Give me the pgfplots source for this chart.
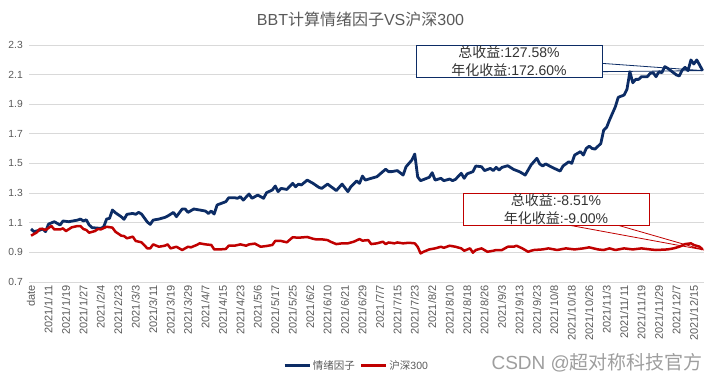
\documentclass[border=0pt]{standalone}
\usepackage{pgfplots}
\pgfplotsset{compat=1.18}
\usepackage{fontspec}
\setmainfont{Liberation Sans}
\newfontfamily\cjk{Noto Sans CJK SC}
\definecolor{navy}{HTML}{0C2C65}
\definecolor{dred}{HTML}{C00000}
\definecolor{gridc}{HTML}{D9D9D9}
\definecolor{txt}{HTML}{595959}
\begin{document}
\begin{tikzpicture}[x=1pt,y=1pt]
\path[use as bounding box] (0,0) rectangle (717,381);
\begin{axis}[
  at={(29.3pt,99pt)}, anchor=south west,
  scale only axis, width=674.7pt, height=237pt,
  xmin=-0.6, xmax=231.5, ymin=0.7, ymax=2.3,
  axis line style={draw=none},
  tick style={draw=none},
  major tick length=0pt,
  ytick={0.7,0.9,1.1,1.3,1.5,1.7,1.9,2.1,2.3},
  ymajorgrids=true,
  grid style={color=gridc, line width=0.8pt},
  xtick={0,6,...,228},
  xticklabels={date,2021/1/11,2021/1/19,2021/1/27,2021/2/4,2021/2/23,2021/3/3,2021/3/11,2021/3/19,2021/3/29,2021/4/7,2021/4/15,2021/4/23,2021/5/6,2021/5/17,2021/5/25,2021/6/2,2021/6/10,2021/6/21,2021/6/29,2021/7/7,2021/7/15,2021/7/23,2021/8/2,2021/8/10,2021/8/18,2021/8/26,2021/9/3,2021/9/13,2021/9/23,2021/10/8,2021/10/18,2021/10/26,2021/11/3,2021/11/11,2021/11/19,2021/11/29,2021/12/7,2021/12/15},
  xticklabel style={rotate=90, anchor=east, font=\fontsize{11}{12}\selectfont, text=txt},
  yticklabel style={font=\fontsize{10.3}{12}\selectfont, text=txt, xshift=-3pt,
    /pgf/number format/.cd, fixed, fixed zerofill, precision=1},
  /pgf/number format/assume math mode=true,
  clip=false,
  legend style={at={(0.485,-0.352)}, anchor=center, draw=none, fill=none,
    legend columns=2, font=\fontsize{10.5}{12}\selectfont, text=txt,
    /tikz/every even column/.append style={column sep=3pt}},
  legend image code/.code={\draw[#1] (0pt,0pt) -- (25pt,0pt);},
]
\addplot[color=navy, line width=2.8pt, line join=round] coordinates {
(0,1.058)(1,1.040)(3,1.050)(4,1.058)(5,1.040)(6,1.091)(8,1.107)(10,1.085)(11,1.112)(13,1.107)
(16,1.118)(17,1.125)(18,1.112)(19,1.120)(20,1.085)(21,1.067)(24,1.062)(25,1.073)(26,1.125)(27,1.130)
(28,1.186)(29,1.168)(31,1.141)(32,1.123)(33,1.157)(35,1.163)(36,1.157)(37,1.170)(38,1.159)(40,1.105)
(41,1.089)(42,1.118)(44,1.125)(46,1.136)(47,1.145)(49,1.170)(50,1.141)(52,1.193)(53,1.193)(54,1.170)
(56,1.193)(58,1.186)(60,1.179)(61,1.163)(62,1.179)(63,1.159)(64,1.220)(66,1.235)(67,1.242)(68,1.269)
(70,1.269)(71,1.265)(72,1.276)(73,1.253)(75,1.294)(76,1.265)(78,1.287)(80,1.265)(81,1.303)(83,1.321)
(84,1.348)(85,1.310)(86,1.332)(88,1.325)(90,1.366)(91,1.343)(92,1.361)(93,1.355)(95,1.388)(97,1.366)
(99,1.339)(100,1.332)(102,1.361)(104,1.332)(105,1.317)(107,1.361)(109,1.310)(110,1.343)(112,1.382)(113,1.366)
(114,1.415)(115,1.388)(117,1.400)(119,1.411)(121,1.445)(122,1.461)(123,1.445)(124,1.445)(126,1.452)(128,1.422)
(129,1.478)(131,1.523)(132,1.564)(133,1.410)(134,1.384)(137,1.407)(138,1.438)(139,1.388)(141,1.400)(142,1.384)
(144,1.395)(145,1.384)(146,1.393)(148,1.434)(149,1.400)(150,1.430)(152,1.445)(153,1.483)(155,1.478)(156,1.452)
(158,1.467)(159,1.452)(160,1.474)(161,1.456)(162,1.474)(164,1.485)(166,1.460)(168,1.445)(170,1.422)(172,1.490)
(174,1.535)(175,1.497)(176,1.483)(177,1.497)(180,1.467)(182,1.449)(183,1.483)(185,1.512)(186,1.501)(187,1.557)
(189,1.580)(190,1.557)(191,1.602)(192,1.617)(193,1.602)(194,1.597)(196,1.635)(197,1.726)(198,1.744)(199,1.794)
(201,1.883)(202,1.947)(204,1.962)(205,2.001)(206,2.120)(207,2.045)(208,2.068)(209,2.068)(210,2.086)(212,2.086)
(213,2.109)(214,2.113)(215,2.086)(216,2.120)(217,2.113)(218,2.154)(219,2.143)(222,2.098)(223,2.091)(224,2.131)
(225,2.149)(226,2.127)(227,2.199)(228,2.172)(229,2.199)(230,2.165)(231,2.127)
};
\addlegendentry{{\cjk 情绪因子}}
\addplot[color=dred, line width=2.5pt, line join=round] coordinates {
(0,1.013)(2,1.035)(3,1.058)(4,1.058)(5,1.051)(7,1.078)(8,1.055)(10,1.055)(11,1.062)(12,1.044)
(14,1.069)(16,1.078)(17,1.078)(18,1.058)(19,1.051)(20,1.033)(22,1.044)(23,1.058)(24,1.055)(26,1.073)
(28,1.067)(29,1.040)(31,1.013)(32,1.010)(33,0.995)(35,1.006)(36,0.977)(38,0.968)(40,0.927)(41,0.927)
(42,0.954)(44,0.938)(46,0.945)(47,0.954)(48,0.927)(50,0.938)(52,0.916)(54,0.938)(55,0.934)(57,0.950)
(58,0.961)(60,0.954)(62,0.950)(63,0.920)(65,0.920)(67,0.923)(68,0.945)(70,0.945)(72,0.954)(74,0.945)
(75,0.954)(77,0.959)(79,0.938)(81,0.943)(83,0.950)(84,0.977)(86,0.977)(88,0.968)(90,1.002)(92,0.999)
(95,1.004)(97,0.992)(98,0.988)(100,0.988)(102,0.983)(103,0.972)(105,0.956)(107,0.961)(109,0.961)(111,0.972)
(113,0.990)(114,0.979)(116,0.983)(117,0.956)(119,0.961)(121,0.972)(122,0.956)(123,0.967)(125,0.961)(126,0.967)
(128,0.961)(130,0.965)(132,0.961)(133,0.938)(134,0.893)(135,0.904)(137,0.920)(139,0.927)(141,0.938)(142,0.931)
(144,0.945)(146,0.938)(148,0.927)(149,0.911)(151,0.927)(152,0.898)(153,0.916)(155,0.927)(157,0.904)(159,0.911)
(160,0.916)(162,0.916)(164,0.938)(166,0.938)(167,0.945)(169,0.927)(171,0.904)(172,0.911)(173,0.916)(176,0.920)
(178,0.927)(181,0.916)(184,0.927)(187,0.920)(190,0.927)(192,0.934)(195,0.920)(197,0.916)(199,0.927)(201,0.916)
(204,0.927)(207,0.920)(210,0.927)(213,0.920)(215,0.916)(219,0.920)(221,0.927)(223,0.938)(225,0.956)(227,0.961)
(228,0.950)(230,0.938)(231,0.920)
};
\addlegendentry{{\cjk 沪深}300}
% callouts
\draw[navy, line width=0.8pt] (196.4,2.176) -- (231.2,2.127) -- (196.4,2.120);
\node[draw=navy, fill=white, line width=0.8pt, minimum width=186pt, minimum height=32pt,
  inner sep=0pt, align=center, text=black!80, font=\fontsize{14}{18}\selectfont]
  at (164.4,2.192) {{\cjk 总收益}:127.58\%\\{\cjk 年化收益}:172.60\%};
\draw[dred, line width=0.8pt] (184.7,1.085) -- (231.5,0.916) -- (201.6,1.085);
\node[draw=dred, fill=white, line width=0.8pt, minimum width=186pt, minimum height=32pt,
  inner sep=0pt, align=center, text=black!80, font=\fontsize{14}{18}\selectfont]
  at (180.6,1.193) {{\cjk 总收益}:-8.51\%\\{\cjk 年化收益}:-9.00\%};
\end{axis}
\node[text=txt, font=\fontsize{16}{18}\selectfont] at (360.5,361.5) {BBT{\cjk 计算情绪因子}VS{\cjk 沪深}300};
\node[anchor=west, text=black!38, font=\fontsize{19}{20}\selectfont] at (488,18) {CSDN @{\cjk 超对称科技官方}};
\end{tikzpicture}
\end{document}
